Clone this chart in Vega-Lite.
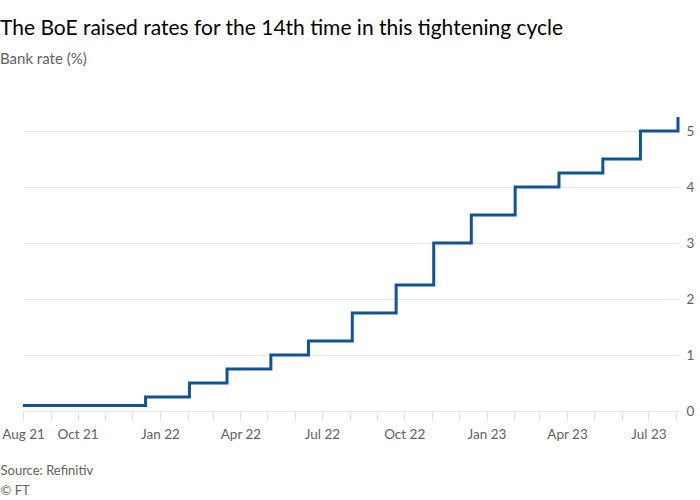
{
  "$schema": "https://vega.github.io/schema/vega-lite/v6.json",
  "autosize": "none",
  "width": 655,
  "height": 336,
  "padding": {"left": 23, "top": 75, "right": 22, "bottom": 89},
  "background": "#ffffff",
  "config": {
    "font": "Lato",
    "view": {"stroke": null}
  },
  "title": {
    "text": "The BoE raised rates for the 14th time in this tightening cycle",
    "subtitle": "Bank rate (%)",
    "anchor": "start",
    "offset": 8,
    "font": "Lato",
    "fontSize": 21,
    "fontWeight": "normal",
    "color": "#000000",
    "subtitleFont": "Lato",
    "subtitleFontSize": 15,
    "subtitleColor": "#66605c",
    "subtitlePadding": 13
  },
  "data": {
    "values": [
      {"date": "2021-08-01", "rate": 0.1},
      {"date": "2021-12-16", "rate": 0.25},
      {"date": "2022-02-03", "rate": 0.5},
      {"date": "2022-03-17", "rate": 0.75},
      {"date": "2022-05-05", "rate": 1.0},
      {"date": "2022-06-16", "rate": 1.25},
      {"date": "2022-08-04", "rate": 1.75},
      {"date": "2022-09-22", "rate": 2.25},
      {"date": "2022-11-03", "rate": 3.0},
      {"date": "2022-12-15", "rate": 3.5},
      {"date": "2023-02-02", "rate": 4.0},
      {"date": "2023-03-23", "rate": 4.25},
      {"date": "2023-05-11", "rate": 4.5},
      {"date": "2023-06-22", "rate": 5.0},
      {"date": "2023-08-03", "rate": 5.25}
    ]
  },
  "mark": {"type": "line", "interpolate": "step-after", "color": "#0f5499", "strokeWidth": 3, "clip": false},
  "encoding": {
    "x": {
      "field": "date",
      "type": "temporal",
      "scale": {
        "type": "utc",
        "domain": [
          {"year": 2021, "month": 8, "date": 1, "utc": true},
          {"year": 2023, "month": 8, "date": 3, "utc": true}
        ]
      },
      "axis": {
        "values": [
          {"year": 2021, "month": 8, "date": 1, "utc": true},
          {"year": 2021, "month": 9, "date": 1, "utc": true},
          {"year": 2021, "month": 10, "date": 1, "utc": true},
          {"year": 2021, "month": 11, "date": 1, "utc": true},
          {"year": 2021, "month": 12, "date": 1, "utc": true},
          {"year": 2022, "month": 1, "date": 1, "utc": true},
          {"year": 2022, "month": 2, "date": 1, "utc": true},
          {"year": 2022, "month": 3, "date": 1, "utc": true},
          {"year": 2022, "month": 4, "date": 1, "utc": true},
          {"year": 2022, "month": 5, "date": 1, "utc": true},
          {"year": 2022, "month": 6, "date": 1, "utc": true},
          {"year": 2022, "month": 7, "date": 1, "utc": true},
          {"year": 2022, "month": 8, "date": 1, "utc": true},
          {"year": 2022, "month": 9, "date": 1, "utc": true},
          {"year": 2022, "month": 10, "date": 1, "utc": true},
          {"year": 2022, "month": 11, "date": 1, "utc": true},
          {"year": 2022, "month": 12, "date": 1, "utc": true},
          {"year": 2023, "month": 1, "date": 1, "utc": true},
          {"year": 2023, "month": 2, "date": 1, "utc": true},
          {"year": 2023, "month": 3, "date": 1, "utc": true},
          {"year": 2023, "month": 4, "date": 1, "utc": true},
          {"year": 2023, "month": 5, "date": 1, "utc": true},
          {"year": 2023, "month": 6, "date": 1, "utc": true},
          {"year": 2023, "month": 7, "date": 1, "utc": true},
          {"year": 2023, "month": 8, "date": 1, "utc": true}
        ],
        "labelExpr": "(utcmonth(datum.value) % 3 == 0 || (utcyear(datum.value) == 2021 && utcmonth(datum.value) == 7)) && !(utcyear(datum.value) == 2023 && utcmonth(datum.value) == 7) ? utcFormat(datum.value, '%b %y') : ''",
        "grid": false,
        "domain": false,
        "ticks": true,
        "tickSize": 10,
        "tickColor": "#e6e0dc",
        "tickWidth": 1,
        "labelFontSize": 13.5,
        "labelColor": "#66605c",
        "labelPadding": 6,
        "labelOverlap": false,
        "labelFlush": false,
        "title": ["Source: Refinitiv", "© FT"],
        "titleFontSize": 13,
        "titleFontWeight": "normal",
        "titleColor": "#66605c",
        "titleAnchor": "start",
        "titleAlign": "left",
        "titleBaseline": "top",
        "titleX": -23,
        "titleY": 53,
        "titleLineHeight": 20
      }
    },
    "y": {
      "field": "rate",
      "type": "quantitative",
      "scale": {"domain": [0, 6], "nice": false},
      "axis": {
        "orient": "right",
        "values": [0, 1, 2, 3, 4, 5],
        "grid": true,
        "gridColor": "#e9e6e3",
        "gridWidth": 1,
        "domain": false,
        "ticks": false,
        "labelFontSize": 13.5,
        "labelColor": "#66605c",
        "labelPadding": 8,
        "title": null
      }
    }
  }
}
